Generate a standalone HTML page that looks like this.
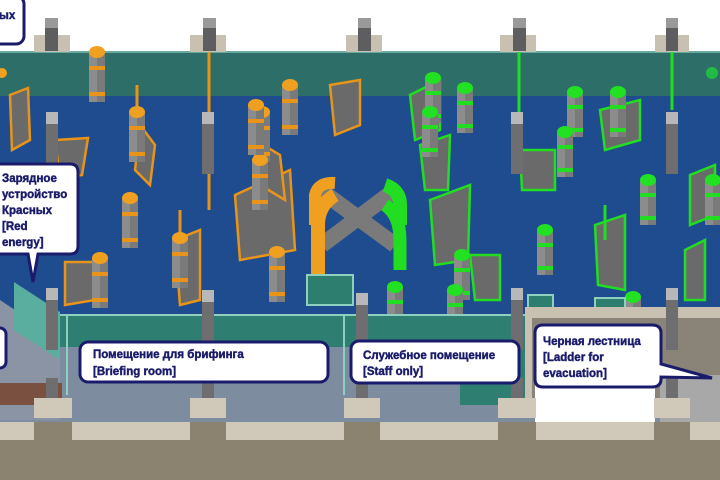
<!DOCTYPE html>
<html><head><meta charset="utf-8"><style>
html,body{margin:0;padding:0;background:#fff;width:720px;height:480px;overflow:hidden}
svg text{font-family:"Liberation Sans",Arial,sans-serif;font-weight:700;fill:#1b1b6b;font-size:11.5px}
</style></head><body>
<svg width="720" height="480" viewBox="0 0 720 480" xmlns="http://www.w3.org/2000/svg">
<defs>
<g id="oc"><rect x="-8" y="0" width="16" height="50" fill="#7a7a7a"/><rect x="-8" y="0" width="8" height="50" fill="#8c8c8c"/><rect x="-8" y="14" width="16" height="4" fill="#e8941a"/><rect x="-8" y="40" width="16" height="4" fill="#e8941a"/><ellipse cx="0" cy="0" rx="8" ry="6" fill="#f0a020"/></g>
<g id="gc"><rect x="-8" y="0" width="16" height="45" fill="#7a7a7a"/><rect x="-8" y="0" width="8" height="45" fill="#8c8c8c"/><rect x="-8" y="13" width="16" height="4" fill="#22dd22"/><rect x="-8" y="36" width="16" height="4" fill="#22dd22"/><ellipse cx="0" cy="0" rx="8" ry="6" fill="#22e022"/></g>
<g id="sp"><rect x="-6" y="0" width="12" height="62" fill="#6e6e70"/><rect x="-6" y="0" width="12" height="12" fill="#b8b8b8"/></g>
</defs>
<rect width="720" height="480" fill="#fff"/>
<rect x="0" y="96" width="720" height="220" fill="#1e4c8e"/>
<rect x="0" y="52" width="720" height="44" fill="#2e6e68"/>
<rect x="0" y="51" width="720" height="2" fill="#6aaaa0"/>
<g fill="#6a6a6a" stroke="#e8941a" stroke-width="2.5">
<polygon points="10,95 28,88 30,140 12,150"/>
<polygon points="55,140 88,138 82,175 60,178"/>
<polygon points="140,125 155,145 150,185 135,170"/>
<polygon points="235,195 290,170 295,250 240,260"/>
<polygon points="65,262 95,262 95,300 65,305"/>
<polygon points="330,85 360,80 360,125 335,135"/>
<polygon points="175,240 200,230 200,300 180,305"/>
<polygon points="255,140 280,155 285,200 260,185"/>
</g>
<g fill="#6a6a6a" stroke="#22dd22" stroke-width="2.5">
<polygon points="410,95 440,80 440,130 415,140"/>
<polygon points="420,145 450,135 448,190 425,190"/>
<polygon points="430,200 470,185 468,260 435,265"/>
<polygon points="520,150 555,150 555,190 522,190"/>
<polygon points="595,225 625,215 625,290 598,285"/>
<polygon points="600,110 640,100 640,140 605,150"/>
<polygon points="690,175 715,165 715,215 690,225"/>
<polygon points="685,250 705,240 705,300 685,300"/>
<polygon points="470,255 500,255 500,300 475,300"/>
</g>
<line x1="320" y1="190" x2="395" y2="245" stroke="#7a7a7a" stroke-width="16"/>
<line x1="322" y1="245" x2="395" y2="190" stroke="#7a7a7a" stroke-width="16"/>
<path d="M318 275 L318 225 Q318 205 335 195" fill="none" stroke="#f0a020" stroke-width="14"/>
<path d="M315 225 L315 195 Q318 182 335 183" fill="none" stroke="#f0a020" stroke-width="12"/>
<path d="M385 185 Q400 190 400 205 L400 225" fill="none" stroke="#22dd22" stroke-width="14"/>
<path d="M385 205 Q400 215 400 240 L400 270" fill="none" stroke="#22dd22" stroke-width="13"/>
<g stroke="#e8941a" stroke-width="3"><line x1="209" y1="52" x2="209" y2="210"/><line x1="137" y1="85" x2="137" y2="110"/><line x1="180" y1="210" x2="180" y2="235"/></g>
<g stroke="#22dd22" stroke-width="3"><line x1="519" y1="52" x2="519" y2="160"/><line x1="672" y1="52" x2="672" y2="110"/><line x1="605" y1="205" x2="605" y2="240"/></g>
<use href="#oc" x="97" y="52"/><use href="#oc" x="137" y="112"/><use href="#oc" x="262" y="112"/><use href="#oc" x="260" y="160"/><use href="#oc" x="290" y="85"/><use href="#oc" x="130" y="198"/><use href="#oc" x="180" y="238"/><use href="#oc" x="100" y="258"/><use href="#oc" x="277" y="252"/><use href="#oc" x="256" y="105"/>
<use href="#gc" x="433" y="78"/><use href="#gc" x="465" y="88"/><use href="#gc" x="575" y="92"/><use href="#gc" x="618" y="92"/><use href="#gc" x="430" y="112"/><use href="#gc" x="565" y="132"/><use href="#gc" x="648" y="180"/><use href="#gc" x="545" y="230"/><use href="#gc" x="462" y="255"/><use href="#gc" x="395" y="287"/><use href="#gc" x="713" y="180"/><use href="#gc" x="633" y="297"/><use href="#gc" x="455" y="290"/>
<circle cx="2" cy="73" r="5" fill="#f0a020"/><circle cx="712" cy="73" r="6" fill="#22bb44"/>
<rect x="307" y="275" width="46" height="30" fill="#2e7e70" stroke="#8fcfc0" stroke-width="2"/>
<rect x="528" y="295" width="25" height="15" fill="#2e7e70" stroke="#8fcfc0" stroke-width="2"/>
<rect x="595" y="298" width="30" height="12" fill="#2e7e70" stroke="#8fcfc0" stroke-width="2"/>
<use href="#sp" x="52" y="112"/><use href="#sp" x="208" y="112"/><use href="#sp" x="517" y="112"/><use href="#sp" x="672" y="112"/>
<rect x="0" y="315" width="720" height="110" fill="#7e8ca0"/>
<polygon points="0,300 60,340 60,420 0,420" fill="#8a94a4"/>
<rect x="58" y="315" width="470" height="32" fill="#2e7e72"/>
<rect x="58" y="314" width="470" height="2" fill="#8fcfc0"/>
<polygon points="14,282 60,312 60,360 14,330" fill="#5aaea0"/>
<rect x="66" y="315" width="2" height="80" fill="#8fcfc0"/>
<rect x="343" y="315" width="2" height="80" fill="#8fcfc0"/>
<rect x="460" y="320" width="70" height="85" fill="#2e7e72"/>
<rect x="0" y="383" width="62" height="22" fill="#7a5040"/>
<rect x="525" y="307" width="195" height="95" fill="#c8c0b0"/>
<rect x="532" y="318" width="188" height="80" fill="#8a8478"/>
<rect x="535" y="350" width="120" height="75" fill="#fff"/>
<rect x="660" y="375" width="60" height="50" fill="#a8a8a8"/>
<use href="#sp" x="52" y="288"/><use href="#sp" x="208" y="290"/><use href="#sp" x="362" y="293"/><use href="#sp" x="517" y="288"/><use href="#sp" x="672" y="288"/>
<g fill="#6e6e70"><rect x="46" y="378" width="12" height="32"/><rect x="202" y="378" width="12" height="32"/><rect x="356" y="378" width="12" height="32"/><rect x="511" y="378" width="12" height="32"/><rect x="666" y="378" width="12" height="32"/></g>
<rect x="0" y="422" width="720" height="58" fill="#8c8270"/>
<g fill="#d0c8b8"><rect x="0" y="422" width="34" height="18"/><rect x="72" y="422" width="118" height="18"/><rect x="226" y="422" width="118" height="18"/><rect x="380" y="422" width="118" height="18"/><rect x="536" y="422" width="118" height="18"/><rect x="690" y="422" width="30" height="18"/></g>
<g fill="#d0c8b8"><rect x="34" y="398" width="38" height="20"/><rect x="190" y="398" width="36" height="20"/><rect x="344" y="398" width="36" height="20"/><rect x="498" y="398" width="38" height="20"/><rect x="654" y="398" width="36" height="20"/></g>
<g><rect x="34" y="35" width="36" height="17" fill="#c8c0b0"/><rect x="190" y="35" width="36" height="17" fill="#c8c0b0"/><rect x="346" y="35" width="36" height="17" fill="#c8c0b0"/><rect x="500" y="35" width="36" height="17" fill="#c8c0b0"/><rect x="655" y="35" width="34" height="17" fill="#c8c0b0"/></g>
<g fill="#5e5e60"><rect x="45" y="18" width="13" height="33"/><rect x="203" y="18" width="13" height="33"/><rect x="358" y="18" width="13" height="33"/><rect x="513" y="18" width="13" height="33"/><rect x="666" y="18" width="12" height="33"/></g>
<g fill="#999"><rect x="45" y="18" width="13" height="10"/><rect x="203" y="18" width="13" height="10"/><rect x="358" y="18" width="13" height="10"/><rect x="513" y="18" width="13" height="10"/><rect x="666" y="18" width="12" height="10"/></g>
<g fill="#fff" stroke="#1b1b6b" stroke-width="3">
<rect x="-12" y="-4" width="36" height="48" rx="8"/>
<path d="M-10 164 H70 Q78 164 78 172 V246 Q78 254 70 254 H38 L33 282 L28 254 H-10 Z"/>
<rect x="-14" y="328" width="20" height="40" rx="6"/>
<rect x="80" y="342" width="248" height="40" rx="8"/>
<rect x="351" y="341" width="168" height="42" rx="8"/>
<path d="M543 325 H652 Q661 325 661 333 V364 L712 378 L661 377 V379 Q661 387 652 387 H543 Q535 387 535 379 V333 Q535 325 543 325 Z"/>
</g>
<g font-weight="bold" font-family="Liberation Sans, sans-serif" font-size="11.5" fill="#1b1b6b" stroke="#1b1b6b" stroke-width="0.45">
<text x="-1" y="19">ых</text>
<text x="2" y="182">Зарядное</text>
<text x="2" y="198">устройство</text>
<text x="2" y="214">Красных</text>
<text x="2" y="230">[Red</text>
<text x="2" y="246">energy]</text>
<text x="93" y="358">Помещение для брифинга</text>
<text x="93" y="375">[Briefing room]</text>
<text x="363" y="359">Служебное помещение</text>
<text x="363" y="375">[Staff only]</text>
<text x="543" y="345">Черная лестница</text>
<text x="543" y="361">[Ladder for</text>
<text x="543" y="377">evacuation]</text>
</g>
</svg>
</body></html>
